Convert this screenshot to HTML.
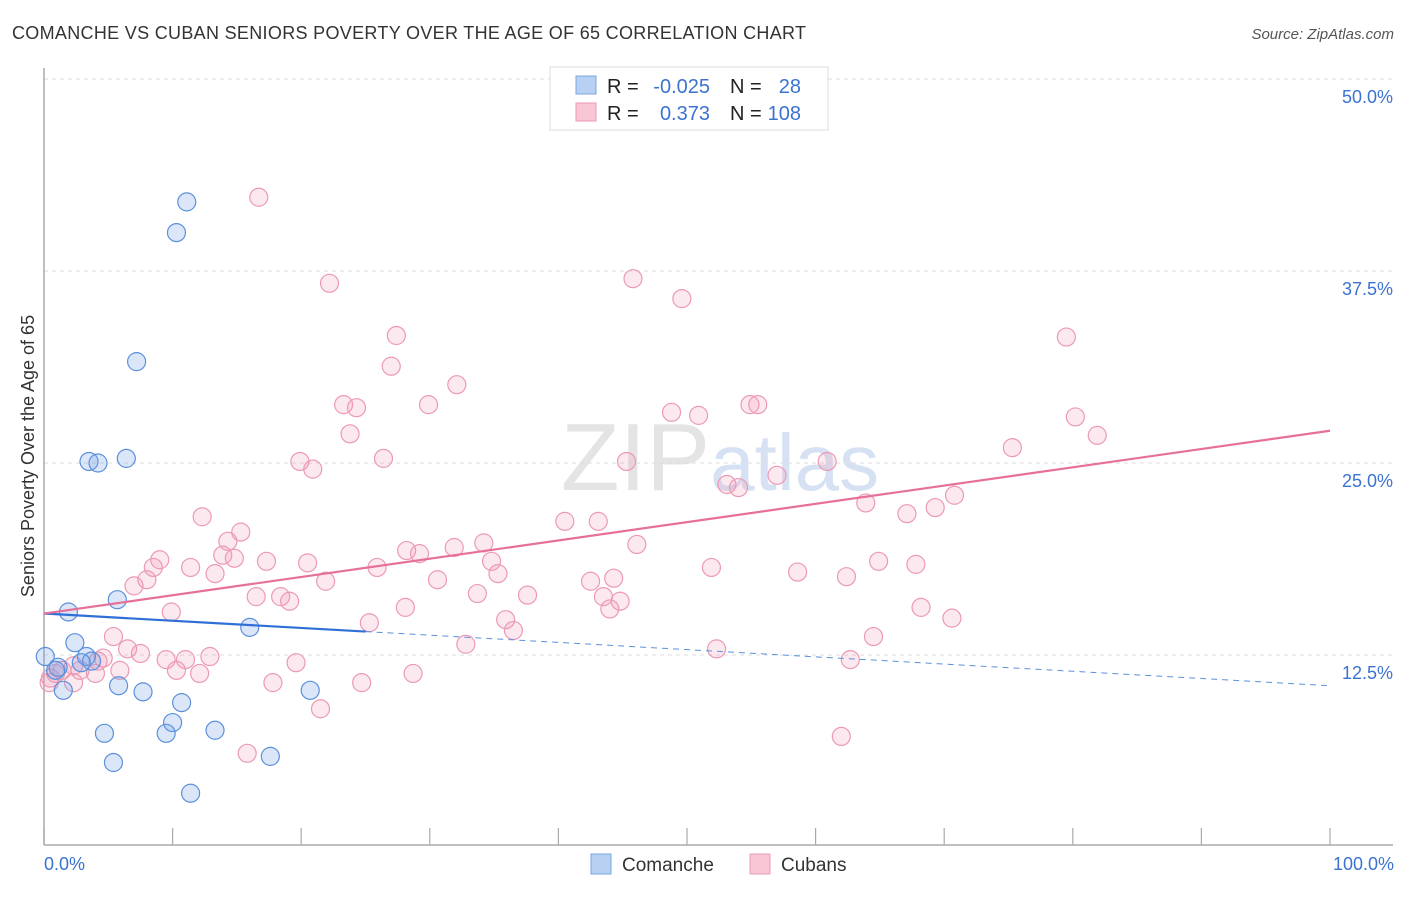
<!DOCTYPE html>
<html><head><meta charset="utf-8"><style>
body{margin:0;background:#fff;font-family:"Liberation Sans",sans-serif;}
svg text{font-family:"Liberation Sans",sans-serif;}
</style></head><body>
<svg id="chart" width="1406" height="892" viewBox="0 0 1406 892" xmlns="http://www.w3.org/2000/svg">
<text x="12" y="39" font-size="18" fill="#333" textLength="794">COMANCHE VS CUBAN SENIORS POVERTY OVER THE AGE OF 65 CORRELATION CHART</text>
<text x="1394" y="39" font-size="15" font-style="italic" fill="#555" text-anchor="end">Source: ZipAtlas.com</text>
<text x="720" y="490" font-size="96" fill="#e4e4e4" text-anchor="middle" font-family="Liberation Serif">ZIP<tspan fill="#d6e2f3" font-family="Liberation Sans" font-size="80">atlas</tspan></text>
<g id="grid"></g>
<g id="axes"></g>
<g id="marks"></g>
<text transform="translate(34,456) rotate(-90)" font-size="18" fill="#333" text-anchor="middle">Seniors Poverty Over the Age of 65</text>
<text x="44" y="870" font-size="18" fill="#3b73d1">0.0%</text>
<text x="1394" y="870" font-size="18" fill="#3b73d1" text-anchor="end">100.0%</text>
<g>
<rect x="550" y="67" width="278" height="63" fill="#fff" stroke="#ddd"/>
<rect x="576" y="76" width="20" height="18" fill="#b8d1f3" stroke="#7aa5e0"/>
<rect x="576" y="103" width="20" height="18" fill="#f8c6d5" stroke="#eb9ab3"/>
<text x="607" y="93" font-size="20" fill="#222">R =</text>
<text x="710" y="93" font-size="20" fill="#3b73d1" text-anchor="end">-0.025</text>
<text x="730" y="93" font-size="20" fill="#222">N =</text>
<text x="801" y="93" font-size="20" fill="#3b73d1" text-anchor="end">28</text>
<text x="607" y="120" font-size="20" fill="#222">R =</text>
<text x="710" y="120" font-size="20" fill="#3b73d1" text-anchor="end">0.373</text>
<text x="730" y="120" font-size="20" fill="#222">N =</text>
<text x="801" y="120" font-size="20" fill="#3b73d1" text-anchor="end">108</text>
</g>
<g>
<rect x="591" y="854" width="20" height="20" fill="#b8d1f3" stroke="#7aa5e0"/>
<text x="622" y="871" font-size="19" fill="#333">Comanche</text></g>
<g>
<rect x="750" y="854" width="20" height="20" fill="#f8c6d5" stroke="#eb9ab3"/>
<text x="781" y="871" font-size="19" fill="#333">Cubans</text></g>
</svg>
<script>
const yTicks=[12.5,25,37.5,50];
const yTickLabels=["12.5%","25.0%","37.5%","50.0%"];
const xTicks=[0,10,20,30,40,50,60,70,80,90,100];
const comancheX=[11.1,10.3,7.2,3.5,4.2,6.4,1.9,5.7,16.0,2.4,3.3,3.7,2.9,0.1,1.1,1.5,5.8,7.7,20.7,10.7,10.0,4.7,9.5,13.3,5.4,17.6,11.4,0.9];
const comancheY=[42.0,40.0,31.6,25.1,25.0,25.3,15.3,16.1,14.3,13.3,12.4,12.1,12.0,12.4,11.7,10.2,10.5,10.1,10.2,9.4,8.1,7.4,7.4,7.6,5.5,5.9,3.5,11.5];
const cubanX=[16.7,22.2,45.8,49.6,27.4,79.5,27.0,32.1,23.3,24.3,29.9,48.8,50.9,54.9,55.5,80.2,23.8,81.9,26.4,19.9,20.9,45.3,60.9,75.3,53.1,54.0,57.0,70.8,63.9,69.3,67.1,12.3,40.5,43.1,15.3,14.3,46.1,34.2,31.9,28.2,29.2,9.0,13.9,14.8,34.8,20.5,17.3,25.9,8.5,11.4,51.9,58.6,64.9,67.8,8.0,13.3,35.3,30.6,21.9,62.4,7.0,44.3,42.5,33.7,37.6,16.5,18.4,19.1,43.5,44.8,28.1,44.0,68.2,70.6,9.9,35.9,36.5,25.3,5.4,64.5,32.8,52.3,6.5,7.5,4.6,9.5,11.0,12.9,4.2,19.6,62.7,2.3,1.4,2.8,4.0,5.9,10.3,12.1,28.7,0.9,0.5,0.4,2.3,17.8,24.7,21.5,15.8,62.0];
const cubanY=[42.3,36.7,37.0,35.7,33.3,33.2,31.3,30.1,28.8,28.6,28.8,28.3,28.1,28.8,28.8,28.0,26.9,26.8,25.3,25.1,24.6,25.1,25.1,26.0,23.6,23.4,24.2,22.9,22.4,22.1,21.7,21.5,21.2,21.2,20.5,19.9,19.7,19.8,19.5,19.3,19.1,18.7,19.0,18.8,18.6,18.5,18.6,18.2,18.2,18.2,18.2,17.9,18.6,18.4,17.4,17.8,17.8,17.4,17.3,17.6,17.0,17.5,17.3,16.5,16.4,16.3,16.3,16.0,16.3,16.0,15.6,15.5,15.6,14.9,15.3,14.8,14.1,14.6,13.7,13.7,13.2,12.9,12.9,12.6,12.3,12.2,12.2,12.4,12.1,12.0,12.2,11.8,11.5,11.5,11.3,11.5,11.5,11.3,11.3,11.3,11.0,10.7,10.7,10.7,10.7,9.0,6.1,7.2];
const comancheTrend=[15.2,10.5];
const comancheSolidEnd=25;
const cubanTrend=[15.2,27.1];

const NS="http://www.w3.org/2000/svg";
const X0=44,X1=1330,Y0=847,PXPER=192/12.5;
const sx=v=>X0+(X1-X0)*v/100;
const sy=v=>Y0-v*PXPER;
function mk(tag,attrs,parent){const e=document.createElementNS(NS,tag);for(const k in attrs)e.setAttribute(k,attrs[k]);parent.appendChild(e);return e;}
const grid=document.getElementById('grid'),axes=document.getElementById('axes'),marks=document.getElementById('marks');
yTicks.forEach((t,i)=>{
  const l=mk('line',{x1:X0,x2:1393,y1:sy(t),y2:sy(t),stroke:'#ddd','stroke-dasharray':'4,4'},grid);
  
  
  const tx=mk('text',{x:1393,y:sy(t)+24,'font-size':18,fill:'#3b73d1','text-anchor':'end'},grid);
  tx.textContent=yTickLabels[i];
  
  
});
const ya=mk('line',{x1:X0,x2:X0,y1:68,y2:845,stroke:'#aaa','stroke-width':1.5},axes);


const xa=mk('line',{x1:X0,x2:1393,y1:845,y2:845,stroke:'#aaa','stroke-width':1.5},axes);


xTicks.forEach(t=>{
  const l=mk('line',{x1:sx(t),x2:sx(t),y1:828,y2:845,stroke:'#aaa','stroke-width':1.2},axes);
  
  
});
cubanX.forEach((x,i)=>{
  const c=mk('circle',{cx:sx(x),cy:sy(cubanY[i]),r:9,fill:'rgba(243,150,180,0.22)',stroke:'#ec9ab4','stroke-width':1.2},marks);
  
  
});
comancheX.forEach((x,i)=>{
  const c=mk('circle',{cx:sx(x),cy:sy(comancheY[i]),r:9,fill:'rgba(110,160,230,0.25)',stroke:'#5b90db','stroke-width':1.2},marks);
  
  
});
const cy=x=>comancheTrend[0]+(comancheTrend[1]-comancheTrend[0])*x/100;
const bs=mk('line',{x1:sx(0),y1:sy(cy(0)),x2:sx(comancheSolidEnd),y2:sy(cy(comancheSolidEnd)),stroke:'#2f6fd6','stroke-width':2.2},marks);


const bd=mk('line',{x1:sx(comancheSolidEnd),y1:sy(cy(comancheSolidEnd)),x2:sx(100),y2:sy(cy(100)),stroke:'#5b90db','stroke-width':1,'stroke-dasharray':'6,5'},marks);


const pl=mk('line',{x1:sx(0),y1:sy(cubanTrend[0]),x2:sx(100),y2:sy(cubanTrend[1]),stroke:'#e6709a','stroke-width':2.2},marks);


</script>
</body></html>
